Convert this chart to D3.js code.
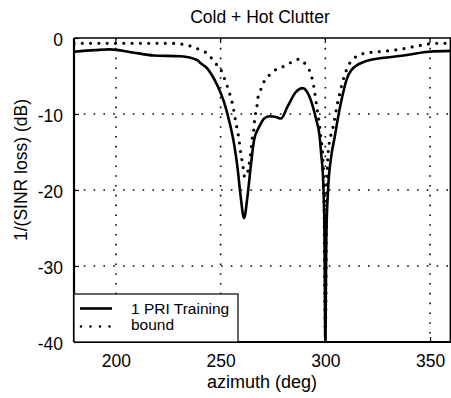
<!DOCTYPE html>
<html><head><meta charset="utf-8">
<script src="https://cdn.jsdelivr.net/npm/d3@7"></script>
<style>body{margin:0;background:#fff}svg{display:block}text{font-family:"Liberation Sans",Arial,sans-serif;fill:#000}</style>
</head><body>
<script>
const title = "Cold + Hot Clutter";
const xLabel = "azimuth (deg)";
const yLabel = "1/(SINR loss) (dB)";
const xTicks = [200, 250, 300, 350];
const yTicks = [0, -10, -20, -30, -40];
const seriesNames = ["1 PRI Training", "bound"];

const trainingAz = [180,190,197,208,218,231,238.8,240.4,243.6,245.2,248.4,251.6,254,256.4,258,259.6,261.2,262.8,264.4,266,268.4,270.8,273.2,276.4,278.8,282,286,289.3,291.7,294,295.7,297.3,298,299,299.6,300,300.5,301.3,302.8,304.5,306.1,307.7,310.1,312.5,318.8,325.3,331.6,339.7,349.4,360];
const trainingDb = [-1.8,-1.6,-1.5,-1.9,-2.3,-2.4,-2.9,-3.3,-4.0,-4.6,-6.2,-8.4,-10.8,-13.9,-16.9,-20.9,-23.7,-20.9,-16.9,-13.4,-11.7,-10.6,-10.3,-10.4,-10.6,-9.0,-7.1,-6.6,-7.3,-9.0,-10.8,-13.0,-15.2,-19,-26,-40,-26,-20,-15.6,-13.0,-10.4,-8.2,-5.5,-4.2,-3.1,-2.7,-2.5,-2.2,-1.8,-1.7];

const boundAz = [180,195,210,225,231,236,240.4,244.4,247,250,251.5,253,254.5,255.6,256.4,257.2,258,258.8,259.3,260,260.7,261.5,262.5,263.5,264.4,265.2,266,266.3,267.3,267.6,268.9,270.8,273.2,275.6,280.4,283.7,287.2,290.9,292.9,294,294.9,295.7,296.5,297.3,297.8,298.7,299.4,300,300.6,301.3,302.5,303.7,304.8,305.8,306.9,308.5,310.1,311.7,314,318.8,325.3,333,343,352.6,360];
const boundDb = [-0.7,-0.7,-0.7,-0.7,-0.8,-1.1,-1.6,-2.2,-3.2,-4.1,-5.1,-6.2,-7.5,-8.6,-9.7,-11.0,-12.1,-13.4,-14.5,-15.8,-16.9,-18.3,-18.0,-16.9,-15.0,-13.0,-11.7,-10.5,-9.2,-8.2,-7.0,-5.7,-4.9,-4.3,-3.7,-3.2,-2.8,-3.6,-4.6,-5.7,-7.1,-8.6,-10.1,-11.7,-13.0,-15.2,-22,-39,-22,-15.2,-13.0,-11.7,-10.1,-8.6,-7.3,-5.5,-4.2,-3.3,-2.6,-2.0,-1.8,-1.6,-1.1,-0.7,-0.7];

const W = 451, H = 398;
const L = 74, R = 451, T = 38, B = 342;
const svg = d3.select("body").append("svg").attr("width", W).attr("height", H);
const x = d3.scaleLinear().domain([180, 360]).range([L, R]);
const y = d3.scaleLinear().domain([-40, 0]).range([B, T]);

svg.append("defs").append("clipPath").attr("id","clip").append("rect")
  .attr("x", L).attr("y", T).attr("width", R - L).attr("height", B - T);

// grid
const grid = svg.append("g").attr("stroke", "#000").attr("stroke-width", 1.6).attr("stroke-dasharray", "1.6,8.2");
xTicks.forEach(v => grid.append("line").attr("x1", x(v)).attr("x2", x(v)).attr("y1", T).attr("y2", B));
yTicks.filter(v => v > -40 && v < 0).forEach(v => grid.append("line").attr("x1", L).attr("x2", R).attr("y1", y(v)).attr("y2", y(v)));

// axes
const xAxis = svg.append("g").attr("transform", `translate(0,${B})`)
  .call(d3.axisBottom(x).tickValues(xTicks).tickSize(-5).tickPadding(13).tickFormat(d3.format("d")));
const yAxis = svg.append("g").attr("transform", `translate(${L},0)`)
  .call(d3.axisLeft(y).tickValues(yTicks).tickSize(-5).tickPadding(11).tickFormat(d => d === 0 ? "0" : String(d)));
[xAxis, yAxis].forEach(g => {
  g.select(".domain").remove();
  g.selectAll("text").attr("font-size", 17.5).attr("font-family", '"Liberation Sans",Arial,sans-serif');
  g.selectAll("line").attr("stroke-width", 1.2);
});
yAxis.selectAll("text").attr("dy", "0.42em");
// top ticks
svg.append("g").call(g => xTicks.forEach(v => g.append("line").attr("x1", x(v)).attr("x2", x(v)).attr("y1", T).attr("y2", T + 5).attr("stroke", "#000").attr("stroke-width", 1.2)));

// frame
svg.append("line").attr("x1", L).attr("x2", L).attr("y1", T).attr("y2", B).attr("stroke", "#000").attr("stroke-width", 2.2);
svg.append("line").attr("x1", L).attr("x2", R).attr("y1", B).attr("y2", B).attr("stroke", "#000").attr("stroke-width", 2.2);
svg.append("line").attr("x1", L).attr("x2", R).attr("y1", T).attr("y2", T).attr("stroke", "#000").attr("stroke-width", 1.4);
svg.append("line").attr("x1", R - 0.7).attr("x2", R - 0.7).attr("y1", T).attr("y2", B).attr("stroke", "#000").attr("stroke-width", 1.4);

const line = d3.line().curve(d3.curveMonotoneX).x(d => x(d[0])).y(d => y(d[1]));
const plot = svg.append("g").attr("clip-path", "url(#clip)");
plot.append("path").datum(boundAz.map((a, i) => [a, boundDb[i]]))
  .attr("d", line).attr("fill", "none").attr("stroke", "#000").attr("stroke-width", 3.2)
  .attr("stroke-linecap", "round").attr("stroke-dasharray", "0,8.3");
plot.append("path").datum(trainingAz.map((a, i) => [a, trainingDb[i]]))
  .attr("d", line).attr("fill", "none").attr("stroke", "#000").attr("stroke-width", 2.6)
  .attr("stroke-linejoin", "round");

// legend
const lg = svg.append("g");
lg.append("rect").attr("x", L).attr("y", 294).attr("width", 164).attr("height", B - 294)
  .attr("fill", "#fff").attr("stroke", "#000").attr("stroke-width", 1.2);
lg.append("line").attr("x1", 80).attr("x2", 112).attr("y1", 308.5).attr("y2", 308.5).attr("stroke", "#000").attr("stroke-width", 2.6);
lg.append("line").attr("x1", 81).attr("x2", 111).attr("y1", 326.5).attr("y2", 326.5).attr("stroke", "#000").attr("stroke-width", 2.6)
  .attr("stroke-linecap", "round").attr("stroke-dasharray", "0,9.5");
lg.append("text").attr("x", 131).attr("y", 314).attr("font-size", 15.5).text(seriesNames[0]);
lg.append("text").attr("x", 131).attr("y", 330).attr("font-size", 15.5).text(seriesNames[1]);

// labels
svg.append("text").attr("x", 260).attr("y", 23).attr("text-anchor", "middle").attr("font-size", 17.5).text(title);
svg.append("text").attr("x", 262).attr("y", 388).attr("text-anchor", "middle").attr("font-size", 18).text(xLabel);
svg.append("text").attr("transform", "translate(27,170) rotate(-90)").attr("text-anchor", "middle").attr("font-size", 17.5).text(yLabel);
</script>
</body></html>
